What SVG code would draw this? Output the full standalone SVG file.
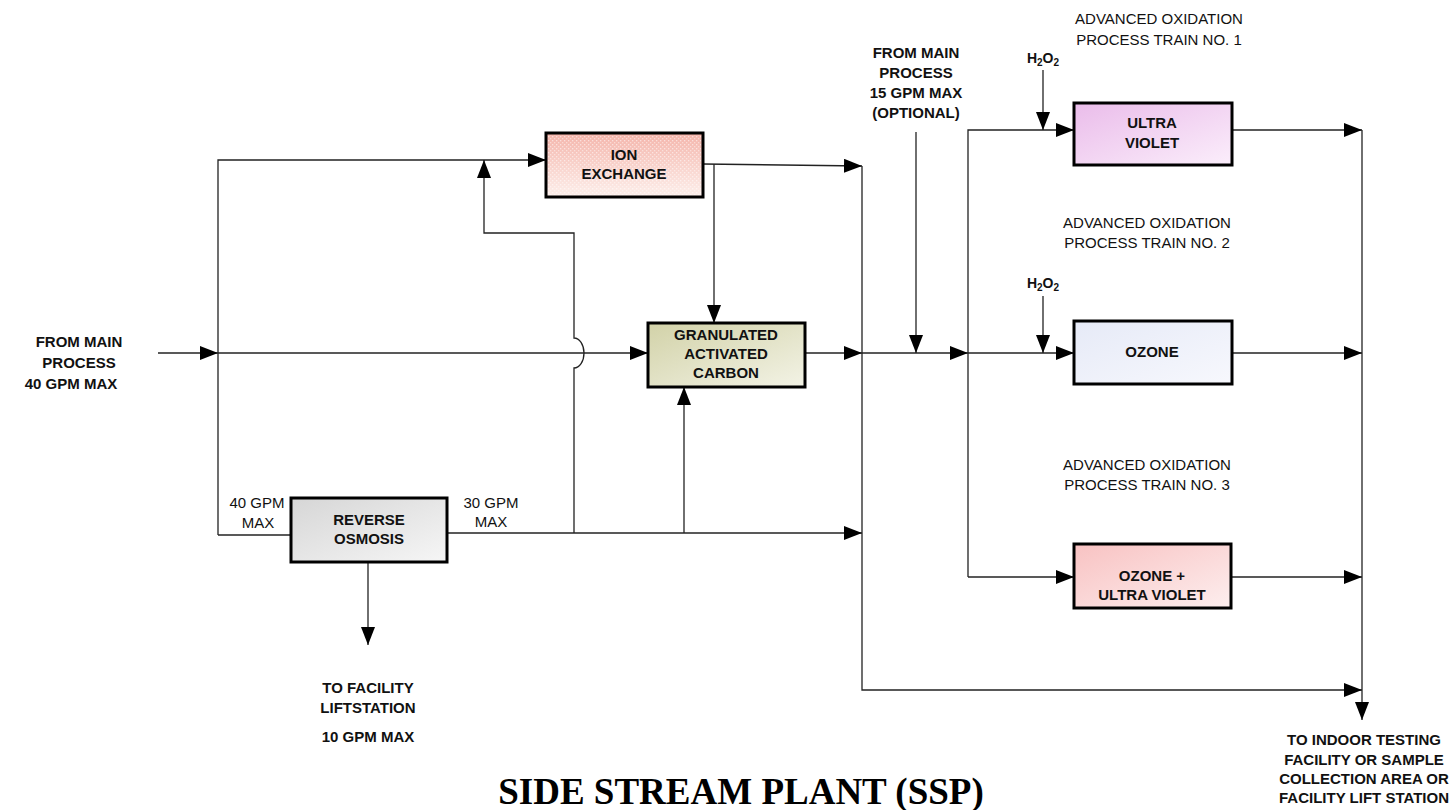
<svg xmlns="http://www.w3.org/2000/svg" width="1450" height="810" viewBox="0 0 1450 810">
<style>
.ln{fill:none;stroke:#222;stroke-width:1.3}
.arr{marker-end:url(#ah)}
.box{stroke:#000;stroke-width:3}
.bl{font-family:"Liberation Sans",Arial,sans-serif;font-weight:bold;font-size:15px;fill:#111;text-anchor:middle}
.nl{font-family:"Liberation Sans",Arial,sans-serif;font-size:15px;fill:#111;text-anchor:middle}
.title{font-family:"Liberation Serif","Times New Roman",serif;font-weight:bold;font-size:37px;fill:#000;text-anchor:middle}
</style>
<defs>
<marker id="ah" markerUnits="userSpaceOnUse" markerWidth="20" markerHeight="14" refX="18" refY="7" orient="auto">
<path d="M0,0 L18,7 L0,14 z" fill="#000"/>
</marker>
<linearGradient id="gIon" x1="0" y1="0" x2="0" y2="1"><stop offset="0" stop-color="#f4b4aa"/><stop offset="1" stop-color="#fdf0ec"/></linearGradient>
<pattern id="pIon" width="4" height="4" patternUnits="userSpaceOnUse"><rect x="0" y="0" width="1.3" height="1.3" fill="#fff" fill-opacity="0.55"/><rect x="2" y="2" width="1.3" height="1.3" fill="#fff" fill-opacity="0.45"/></pattern>
<linearGradient id="gGac" x1="0" y1="0" x2="1" y2="1"><stop offset="0" stop-color="#d2d2a8"/><stop offset="1" stop-color="#f3f3e6"/></linearGradient>
<linearGradient id="gRo" x1="0" y1="0" x2="1" y2="1"><stop offset="0" stop-color="#d6d6d6"/><stop offset="1" stop-color="#f6f6f6"/></linearGradient>
<linearGradient id="gUv" x1="0" y1="0" x2="1" y2="1"><stop offset="0" stop-color="#eabcea"/><stop offset="1" stop-color="#fbeefb"/></linearGradient>
<linearGradient id="gOz" x1="0" y1="0" x2="1" y2="1"><stop offset="0" stop-color="#e6eaf7"/><stop offset="1" stop-color="#f7f8fd"/></linearGradient>
<linearGradient id="gOzUv" x1="0" y1="0" x2="1" y2="1"><stop offset="0" stop-color="#f8c2c2"/><stop offset="1" stop-color="#fdeeee"/></linearGradient>
</defs>
<rect width="1450" height="810" fill="#fff"/>

<g id="connectors">
<path class="ln arr" d="M158,353 L218,353"/>
<path class="ln arr" d="M218,353 L648,353"/>
<path class="ln arr" d="M218,535 L218,160 L546,160"/>
<path class="ln" d="M218,535 L291,535"/>
<path class="ln arr" d="M447,533 L862,533"/>
<path class="ln arr" d="M574,533 L574,368 A10,15 0 0 0 574,338 L574,233 L484,233 L484,160"/>
<path class="ln arr" d="M684,533 L684,387"/>
<path class="ln arr" d="M368,562 L368,645"/>
<path class="ln arr" d="M703,164 L862,166"/>
<path class="ln arr" d="M714,164 L714,323"/>
<path class="ln arr" d="M805,353 L862,353"/>
<path class="ln arr" d="M862,353 L968,353"/>
<path class="ln arr" d="M916,132 L916,353"/>
<path class="ln arr" d="M862,166 L862,690 L1362,690"/>
<path class="ln arr" d="M968,577 L968,130 L1074,130"/>
<path class="ln arr" d="M968,353 L1074,353"/>
<path class="ln arr" d="M968,577 L1074,577"/>
<path class="ln arr" d="M1043,70 L1043,130"/>
<path class="ln arr" d="M1043,296 L1043,353"/>
<path class="ln arr" d="M1232,130 L1362,130"/>
<path class="ln arr" d="M1232,353 L1362,353"/>
<path class="ln arr" d="M1232,577 L1362,577"/>
<path class="ln arr" d="M1362,130 L1362,720"/>
</g>

<g id="ion-exchange">
<rect class="box" x="546" y="133" width="157" height="64" fill="url(#gIon)"/>
<rect x="548" y="135" width="153" height="60" fill="url(#pIon)"/>
<text class="bl" x="624" y="160">ION</text>
<text class="bl" x="624" y="179">EXCHANGE</text>
</g>

<g id="gac">
<rect class="box" x="648" y="323" width="157" height="64" fill="url(#gGac)"/>
<text class="bl" x="726" y="340">GRANULATED</text>
<text class="bl" x="726" y="359">ACTIVATED</text>
<text class="bl" x="726" y="378">CARBON</text>
</g>

<g id="reverse-osmosis">
<rect class="box" x="291" y="498" width="156" height="64" fill="url(#gRo)"/>
<text class="bl" x="369" y="525">REVERSE</text>
<text class="bl" x="369" y="544">OSMOSIS</text>
</g>

<g id="ultra-violet">
<rect class="box" x="1074" y="103" width="158" height="62" fill="url(#gUv)"/>
<text class="bl" x="1152" y="128">ULTRA</text>
<text class="bl" x="1152" y="148">VIOLET</text>
</g>

<g id="ozone">
<rect class="box" x="1074" y="321" width="158" height="63" fill="url(#gOz)"/>
<text class="bl" x="1152" y="357">OZONE</text>
</g>

<g id="ozone-uv">
<rect class="box" x="1074" y="544" width="157" height="64" fill="url(#gOzUv)"/>
<text class="bl" x="1152" y="581">OZONE +</text>
<text class="bl" x="1152" y="600">ULTRA VIOLET</text>
</g>

<g id="labels">
<text class="bl" x="79" y="347">FROM MAIN</text>
<text class="bl" x="79" y="368">PROCESS</text>
<text class="bl" x="71" y="389">40 GPM MAX</text>

<text class="nl" x="257" y="508">40 GPM</text>
<text class="nl" x="258" y="528">MAX</text>
<text class="nl" x="491" y="508">30 GPM</text>
<text class="nl" x="491" y="527">MAX</text>

<text class="bl" x="368" y="693">TO FACILITY</text>
<text class="bl" x="368" y="713">LIFTSTATION</text>
<text class="bl" x="368" y="742">10 GPM MAX</text>

<text class="bl" x="916" y="58">FROM MAIN</text>
<text class="bl" x="916" y="78">PROCESS</text>
<text class="bl" x="916" y="98">15 GPM MAX</text>
<text class="bl" x="916" y="118">(OPTIONAL)</text>

<text class="bl" x="1043" y="63" style="font-size:14px">H<tspan font-size="10" dy="3">2</tspan><tspan dy="-3">O</tspan><tspan font-size="10" dy="3">2</tspan></text>
<text class="bl" x="1043" y="288" style="font-size:14px">H<tspan font-size="10" dy="3">2</tspan><tspan dy="-3">O</tspan><tspan font-size="10" dy="3">2</tspan></text>

<text class="nl" x="1159" y="24">ADVANCED OXIDATION</text>
<text class="nl" x="1159" y="45">PROCESS TRAIN NO. 1</text>
<text class="nl" x="1147" y="228">ADVANCED OXIDATION</text>
<text class="nl" x="1147" y="248">PROCESS TRAIN NO. 2</text>
<text class="nl" x="1147" y="470">ADVANCED OXIDATION</text>
<text class="nl" x="1147" y="490">PROCESS TRAIN NO. 3</text>

<text class="bl" x="1364" y="745">TO INDOOR TESTING</text>
<text class="bl" x="1364" y="765">FACILITY OR SAMPLE</text>
<text class="bl" x="1364" y="784">COLLECTION AREA OR</text>
<text class="bl" x="1364" y="803">FACILITY LIFT STATION</text>

<text class="title" x="741" y="804">SIDE STREAM PLANT (SSP)</text>
</g>
</svg>
